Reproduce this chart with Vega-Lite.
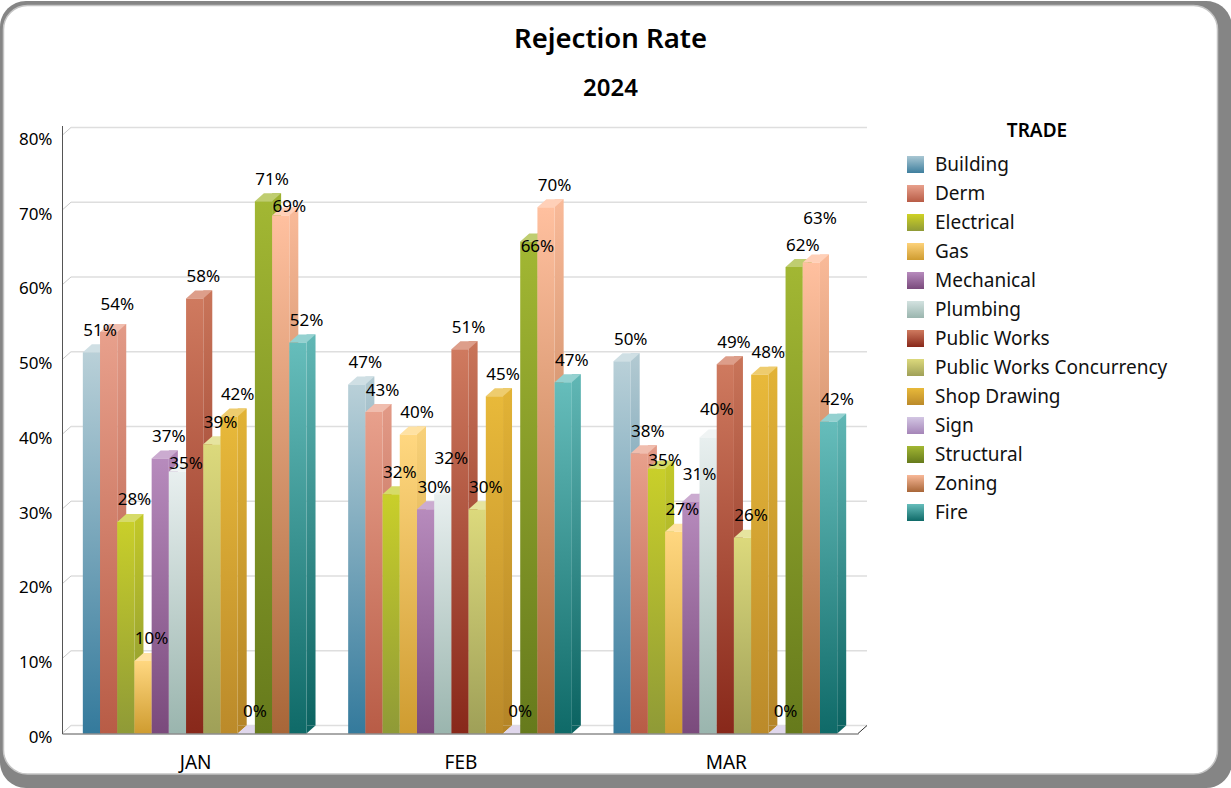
{"$schema":"https://vega.github.io/schema/vega-lite/v6.json","width":1231,"height":788,"padding":0,"autosize":"none","background":"white","view":{"stroke":null,"fill":null},
"config":{"font":"Noto Sans","text":{"font":"Noto Sans"}},
"title":{"text":"Rejection Rate","subtitle":"2024","anchor":"middle","frame":"group","dx":-5,"dy":35,"offset":-66,"fontSize":27.5,"fontWeight":600,"subtitleFontSize":24,"subtitleFontWeight":600,"subtitlePadding":24,"color":"#000","subtitleColor":"#000","font":"Noto Sans","subtitleFont":"Noto Sans"},
"datasets":{"levels":[{"month":"JAN","end":"MAR","level":0},{"month":"JAN","end":"MAR","level":0.1},{"month":"JAN","end":"MAR","level":0.2},{"month":"JAN","end":"MAR","level":0.3},{"month":"JAN","end":"MAR","level":0.4},{"month":"JAN","end":"MAR","level":0.5},{"month":"JAN","end":"MAR","level":0.6},{"month":"JAN","end":"MAR","level":0.7},{"month":"JAN","end":"MAR","level":0.8}]},
"data":{"values":[
{"month":"JAN","trade":"Building","value":0.51},{"month":"JAN","trade":"Derm","value":0.537},{"month":"JAN","trade":"Electrical","value":0.283},{"month":"JAN","trade":"Gas","value":0.097},{"month":"JAN","trade":"Mechanical","value":0.368},{"month":"JAN","trade":"Plumbing","value":0.35},{"month":"JAN","trade":"Public Works","value":0.582},{"month":"JAN","trade":"Public Works Concurrency","value":0.387},{"month":"JAN","trade":"Shop Drawing","value":0.424},{"month":"JAN","trade":"Sign","value":0},{"month":"JAN","trade":"Structural","value":0.712},{"month":"JAN","trade":"Zoning","value":0.693},{"month":"JAN","trade":"Fire","value":0.523},
{"month":"FEB","trade":"Building","value":0.467},{"month":"FEB","trade":"Derm","value":0.43},{"month":"FEB","trade":"Electrical","value":0.32},{"month":"FEB","trade":"Gas","value":0.4},{"month":"FEB","trade":"Mechanical","value":0.3},{"month":"FEB","trade":"Plumbing","value":0.32},{"month":"FEB","trade":"Public Works","value":0.514},{"month":"FEB","trade":"Public Works Concurrency","value":0.3},{"month":"FEB","trade":"Shop Drawing","value":0.451},{"month":"FEB","trade":"Sign","value":0},{"month":"FEB","trade":"Structural","value":0.658},{"month":"FEB","trade":"Zoning","value":0.704},{"month":"FEB","trade":"Fire","value":0.47},
{"month":"MAR","trade":"Building","value":0.498},{"month":"MAR","trade":"Derm","value":0.375},{"month":"MAR","trade":"Electrical","value":0.354},{"month":"MAR","trade":"Gas","value":0.27},{"month":"MAR","trade":"Mechanical","value":0.31},{"month":"MAR","trade":"Plumbing","value":0.396},{"month":"MAR","trade":"Public Works","value":0.494},{"month":"MAR","trade":"Public Works Concurrency","value":0.262},{"month":"MAR","trade":"Shop Drawing","value":0.48},{"month":"MAR","trade":"Sign","value":0},{"month":"MAR","trade":"Structural","value":0.624},{"month":"MAR","trade":"Zoning","value":0.63},{"month":"MAR","trade":"Fire","value":0.417}
]},
"resolve":{"scale":{"fill":"independent","xOffset":"independent"}},
"layer":[
{"data":{"values":[{"part":"shadow"}]},"mark":{"type":"rect","fill":"#858585","cornerRadius":26,"xOffset":1,"yOffset":1},"encoding":{}},
{"data":{"values":[{"month":"JAN","end":"MAR","top":0.8,"bottom":0}]},"mark":{"type":"rect","fill":"white","stroke":"#c4c4c4","strokeWidth":1.5,"cornerRadius":24,"xOffset":-191.17,"x2Offset":492.17,"yOffset":-130,"y2Offset":40.5},
"encoding":{"x":{"field":"month","type":"nominal","sort":["JAN","FEB","MAR"],"scale":{"domain":["JAN","FEB","MAR"],"range":[62,858],"paddingInner":0.157,"paddingOuter":0.0785},"axis":{"title":null,"orient":"bottom","domainColor":"#555","domainWidth":1,"ticks":false,"labelFontSize":19,"labelColor":"#000","labelAngle":0,"labelPadding":20,"labelOffset":1,"offset":-54.5,"grid":false,"zindex":1}},"x2":{"field":"end"},
"y":{"field":"top","type":"quantitative","scale":{"domain":[0,0.81333],"range":[733.5,125.5],"nice":false},"axis":{"title":null,"orient":"left","values":[0,0.1,0.2,0.3,0.4,0.5,0.6,0.7,0.8],"format":".0%","grid":false,"ticks":false,"domain":true,"domainColor":"#555","domainWidth":1,"labelFontSize":17,"labelColor":"#000","labelPadding":10,"labelOffset":4,"offset":-62,"zindex":1}},"y2":{"field":"bottom"}}},
{"data":{"name":"levels"},"mark":{"type":"rule","stroke":"#dedede","strokeWidth":1.5,"xOffset":-123.67,"x2Offset":141.67,"yOffset":-8,"y2Offset":-8},
"encoding":{"x":{"field":"month","type":"nominal"},"x2":{"field":"end"},"y":{"field":"level","type":"quantitative"}}},
{"data":{"name":"levels"},
"mark":{"type":"point","shape":"M0 0 L9 -8","size":4,"stroke":"#c8c8c8","strokeWidth":1,"filled":false,"opacity":1,"xOffset":-132.67},
"encoding":{"x":{"field":"month","type":"nominal"},"y":{"field":"level","type":"quantitative"}}},
{"data":{"values":[{"month":"MAR","level":0}]},"mark":{"type":"point","shape":"M0 0 L9 -8","size":4,"stroke":"#333","strokeWidth":1,"filled":false,"opacity":1,"xOffset":132.67},
"encoding":{"x":{"field":"month","type":"nominal"},"y":{"field":"level","type":"quantitative"}}},
{"mark":{"type":"bar","width":9,"yOffset":-8,"y2Offset":-8},
"encoding":{"x":{"field":"month","type":"nominal"},"xOffset":{"field":"trade","type":"nominal","scale":{"domain":["Building","Derm","Electrical","Gas","Mechanical","Plumbing","Public Works","Public Works Concurrency","Shop Drawing","Sign","Structural","Zoning","Fire"],"range":[13.1,236.8]}},"y":{"field":"value","type":"quantitative"},"y2":{"datum":0},
"fill":{"condition":[
{"test":"datum.trade==='Building'","value":{"gradient":"linear","x1":0,"y1":0,"x2":0,"y2":1,"stops":[{"offset":0,"color":"#b3cad2"},{"offset":1,"color":"#317596"}]}},
{"test":"datum.trade==='Derm'","value":{"gradient":"linear","x1":0,"y1":0,"x2":0,"y2":1,"stops":[{"offset":0,"color":"#e29a87"},{"offset":1,"color":"#b25842"}]}},
{"test":"datum.trade==='Electrical'","value":{"gradient":"linear","x1":0,"y1":0,"x2":0,"y2":1,"stops":[{"offset":0,"color":"#c3c928"},{"offset":1,"color":"#8a9533"}]}},
{"test":"datum.trade==='Gas'","value":{"gradient":"linear","x1":0,"y1":0,"x2":0,"y2":1,"stops":[{"offset":0,"color":"#f8d17a"},{"offset":1,"color":"#c8972d"}]}},
{"test":"datum.trade==='Mechanical'","value":{"gradient":"linear","x1":0,"y1":0,"x2":0,"y2":1,"stops":[{"offset":0,"color":"#b185b7"},{"offset":1,"color":"#754777"}]}},
{"test":"datum.trade==='Plumbing'","value":{"gradient":"linear","x1":0,"y1":0,"x2":0,"y2":1,"stops":[{"offset":0,"color":"#e2eaea"},{"offset":1,"color":"#95b0a9"}]}},
{"test":"datum.trade==='Public Works'","value":{"gradient":"linear","x1":0,"y1":0,"x2":0,"y2":1,"stops":[{"offset":0,"color":"#c9755a"},{"offset":1,"color":"#822517"}]}},
{"test":"datum.trade==='Public Works Concurrency'","value":{"gradient":"linear","x1":0,"y1":0,"x2":0,"y2":1,"stops":[{"offset":0,"color":"#d6d377"},{"offset":1,"color":"#9a9b53"}]}},
{"test":"datum.trade==='Shop Drawing'","value":{"gradient":"linear","x1":0,"y1":0,"x2":0,"y2":1,"stops":[{"offset":0,"color":"#e2b336"},{"offset":1,"color":"#b58527"}]}},
{"test":"datum.trade==='Sign'","value":{"gradient":"linear","x1":0,"y1":0,"x2":0,"y2":1,"stops":[{"offset":0,"color":"#cdc0dd"},{"offset":1,"color":"#9f80b2"}]}},
{"test":"datum.trade==='Structural'","value":{"gradient":"linear","x1":0,"y1":0,"x2":0,"y2":1,"stops":[{"offset":0,"color":"#9db130"},{"offset":1,"color":"#627518"}]}},
{"test":"datum.trade==='Zoning'","value":{"gradient":"linear","x1":0,"y1":0,"x2":0,"y2":1,"stops":[{"offset":0,"color":"#f9ba99"},{"offset":1,"color":"#a26134"}]}}
],"value":{"gradient":"linear","x1":0,"y1":0,"x2":0,"y2":1,"stops":[{"offset":0,"color":"#61b7b5"},{"offset":1,"color":"#0c6462"}]}}}},
{"mark":{"type":"point","shape":"M8.6 0 L17.6 -8 L8.6 -8 Z","size":4,"filled":true,"opacity":1,"strokeWidth":0},
"encoding":{"x":{"field":"month","type":"nominal"},"xOffset":{"field":"trade","type":"nominal","scale":{"domain":["Building","Derm","Electrical","Gas","Mechanical","Plumbing","Public Works","Public Works Concurrency","Shop Drawing","Sign","Structural","Zoning","Fire"]}},"y":{"datum":0,"type":"quantitative"},
"fill":{"field":"trade","type":"nominal","legend":null,"scale":{"domain":["Building","Derm","Electrical","Gas","Mechanical","Plumbing","Public Works","Public Works Concurrency","Shop Drawing","Sign","Structural","Zoning","Fire"],"range":["#317596","#b25842","#8a9533","#c8972d","#754777","#95b0a9","#822517","#9a9b53","#b58527","#9f80b2","#627518","#a26134","#0c6462"]}}}},
{"mark":{"type":"point","shape":"M-8.6 0 L0.4 -8 L17.6 -8 L8.6 0 Z","size":4,"filled":true,"opacity":1,"strokeWidth":0},
"encoding":{"x":{"field":"month","type":"nominal"},"xOffset":{"field":"trade","type":"nominal","scale":{"domain":["Building","Derm","Electrical","Gas","Mechanical","Plumbing","Public Works","Public Works Concurrency","Shop Drawing","Sign","Structural","Zoning","Fire"]}},"y":{"field":"value","type":"quantitative"},
"fill":{"field":"trade","type":"nominal","legend":null,"scale":{"domain":["Building","Derm","Electrical","Gas","Mechanical","Plumbing","Public Works","Public Works Concurrency","Shop Drawing","Sign","Structural","Zoning","Fire"],"range":["#cfdfe4","#f0bdae","#d6db69","#ffe2a3","#cbabd0","#f0f4f4","#dd9e8a","#e6e49f","#eecc6e","#e0d7ec","#bfcd70","#ffd0b8","#94d1d0"]}},
"stroke":{"field":"trade","type":"nominal","scale":{"domain":["Building","Derm","Electrical","Gas","Mechanical","Plumbing","Public Works","Public Works Concurrency","Shop Drawing","Sign","Structural","Zoning","Fire"],"range":["#3f7f9e","#b85c46","#8f9a37","#cf9c30","#7a4a7c","#9ab5ae","#88281a","#9fa058","#bb8a2a","#a585b8","#667a1c","#a86638","#0f6a68"]},
"legend":{"title":"TRADE","orient":"none","legendX":906,"legendY":122,"titleFontSize":19,"titleFontWeight":600,"titleColor":"#000","titleAnchor":"middle","titlePadding":14,"labelFontSize":19,"labelColor":"#111","labelLimit":300,"labelOffset":10,"symbolType":"square","symbolSize":289,"symbolStrokeWidth":0,"rowPadding":9,
"encoding":{"symbols":{"fill":{"value":{"expr":"{gradient:'linear',x1:0,y1:0,x2:0,y2:1,stops:[{offset:0,color:{'Building':'#a9c7d3','Derm':'#e8a08c','Electrical':'#cfd225','Gas':'#fdd27a','Mechanical':'#b78bbd','Plumbing':'#d3e2e0','Public Works':'#cf7a5f','Public Works Concurrency':'#dcd97c','Shop Drawing':'#e8b93a','Sign':'#d3c6e3','Structural':'#a2b733','Zoning':'#f8b898','Fire':'#66bdbb'}[datum.value]},{offset:1,color:{'Building':'#3f7f9e','Derm':'#b85c46','Electrical':'#8f9a37','Gas':'#cf9c30','Mechanical':'#7a4a7c','Plumbing':'#9ab5ae','Public Works':'#88281a','Public Works Concurrency':'#9fa058','Shop Drawing':'#bb8a2a','Sign':'#a585b8','Structural':'#667a1c','Zoning':'#a86638','Fire':'#0f6a68'}[datum.value]}]}"}}}}}}}},
{"mark":{"type":"bar"},
"encoding":{"x":{"field":"month","type":"nominal"},"xOffset":{"field":"trade","type":"nominal","scale":{"domain":["Building","Derm","Electrical","Gas","Mechanical","Plumbing","Public Works","Public Works Concurrency","Shop Drawing","Sign","Structural","Zoning","Fire"]}},"y":{"field":"value","type":"quantitative"},"y2":{"datum":0},
"fill":{"condition":[
{"test":"datum.trade==='Building'","value":{"gradient":"linear","x1":0,"y1":0,"x2":0,"y2":1,"stops":[{"offset":0,"color":"#b9d0d8"},{"offset":1,"color":"#347a9c"}]}},
{"test":"datum.trade==='Derm'","value":{"gradient":"linear","x1":0,"y1":0,"x2":0,"y2":1,"stops":[{"offset":0,"color":"#e8a08c"},{"offset":1,"color":"#b85c46"}]}},
{"test":"datum.trade==='Electrical'","value":{"gradient":"linear","x1":0,"y1":0,"x2":0,"y2":1,"stops":[{"offset":0,"color":"#c9cf2a"},{"offset":1,"color":"#8f9a37"}]}},
{"test":"datum.trade==='Gas'","value":{"gradient":"linear","x1":0,"y1":0,"x2":0,"y2":1,"stops":[{"offset":0,"color":"#ffd780"},{"offset":1,"color":"#cf9c30"}]}},
{"test":"datum.trade==='Mechanical'","value":{"gradient":"linear","x1":0,"y1":0,"x2":0,"y2":1,"stops":[{"offset":0,"color":"#b78bbd"},{"offset":1,"color":"#7a4a7c"}]}},
{"test":"datum.trade==='Plumbing'","value":{"gradient":"linear","x1":0,"y1":0,"x2":0,"y2":1,"stops":[{"offset":0,"color":"#e8efef"},{"offset":1,"color":"#9ab5ae"}]}},
{"test":"datum.trade==='Public Works'","value":{"gradient":"linear","x1":0,"y1":0,"x2":0,"y2":1,"stops":[{"offset":0,"color":"#cf7a5f"},{"offset":1,"color":"#88281a"}]}},
{"test":"datum.trade==='Public Works Concurrency'","value":{"gradient":"linear","x1":0,"y1":0,"x2":0,"y2":1,"stops":[{"offset":0,"color":"#dcd97c"},{"offset":1,"color":"#9fa058"}]}},
{"test":"datum.trade==='Shop Drawing'","value":{"gradient":"linear","x1":0,"y1":0,"x2":0,"y2":1,"stops":[{"offset":0,"color":"#e8b93a"},{"offset":1,"color":"#bb8a2a"}]}},
{"test":"datum.trade==='Sign'","value":{"gradient":"linear","x1":0,"y1":0,"x2":0,"y2":1,"stops":[{"offset":0,"color":"#d3c6e3"},{"offset":1,"color":"#a585b8"}]}},
{"test":"datum.trade==='Structural'","value":{"gradient":"linear","x1":0,"y1":0,"x2":0,"y2":1,"stops":[{"offset":0,"color":"#a2b733"},{"offset":1,"color":"#667a1c"}]}},
{"test":"datum.trade==='Zoning'","value":{"gradient":"linear","x1":0,"y1":0,"x2":0,"y2":1,"stops":[{"offset":0,"color":"#ffc09f"},{"offset":1,"color":"#a86638"}]}}
],"value":{"gradient":"linear","x1":0,"y1":0,"x2":0,"y2":1,"stops":[{"offset":0,"color":"#66bdbb"},{"offset":1,"color":"#0f6a68"}]}}}},
{"transform":[{"filter":"!(datum.month==='JAN'&&(datum.trade==='Plumbing'||datum.trade==='Zoning'||datum.trade==='Derm'))&&!(datum.month==='FEB'&&(datum.trade==='Plumbing'||datum.trade==='Structural'))&&!(datum.month==='MAR'&&(datum.trade==='Electrical'||datum.trade==='Zoning'||datum.trade==='Mechanical'||datum.trade==='Plumbing'))"}],
"mark":{"type":"text","fontSize":17,"color":"#000","dx":8.6,"dy":-21.5,"baseline":"middle","align":"center"},
"encoding":{"x":{"field":"month","type":"nominal"},"xOffset":{"field":"trade","type":"nominal","scale":{"domain":["Building","Derm","Electrical","Gas","Mechanical","Plumbing","Public Works","Public Works Concurrency","Shop Drawing","Sign","Structural","Zoning","Fire"]}},"y":{"field":"value","type":"quantitative"},"text":{"field":"value","type":"quantitative","format":".0%"}}},
{"transform":[{"filter":"(datum.month==='JAN'&&(datum.trade==='Plumbing'||datum.trade==='Zoning'))||(datum.month==='MAR'&&datum.trade==='Electrical')"}],
"mark":{"type":"text","fontSize":17,"color":"#000","dx":8.6,"dy":-8,"baseline":"middle","align":"center"},
"encoding":{"x":{"field":"month","type":"nominal"},"xOffset":{"field":"trade","type":"nominal","scale":{"domain":["Building","Derm","Electrical","Gas","Mechanical","Plumbing","Public Works","Public Works Concurrency","Shop Drawing","Sign","Structural","Zoning","Fire"]}},"y":{"field":"value","type":"quantitative"},"text":{"field":"value","type":"quantitative","format":".0%"}}},
{"transform":[{"filter":"(datum.month==='JAN'&&datum.trade==='Derm')||(datum.month==='MAR'&&(datum.trade==='Mechanical'||datum.trade==='Plumbing'))"}],
"mark":{"type":"text","fontSize":17,"color":"#000","dx":8.6,"dy":-27,"baseline":"middle","align":"center"},
"encoding":{"x":{"field":"month","type":"nominal"},"xOffset":{"field":"trade","type":"nominal","scale":{"domain":["Building","Derm","Electrical","Gas","Mechanical","Plumbing","Public Works","Public Works Concurrency","Shop Drawing","Sign","Structural","Zoning","Fire"]}},"y":{"field":"value","type":"quantitative"},"text":{"field":"value","type":"quantitative","format":".0%"}}},
{"transform":[{"filter":"datum.month==='FEB'&&datum.trade==='Plumbing'"}],
"mark":{"type":"text","fontSize":17,"color":"#000","dx":8.6,"dy":-35,"baseline":"middle","align":"center"},
"encoding":{"x":{"field":"month","type":"nominal"},"xOffset":{"field":"trade","type":"nominal","scale":{"domain":["Building","Derm","Electrical","Gas","Mechanical","Plumbing","Public Works","Public Works Concurrency","Shop Drawing","Sign","Structural","Zoning","Fire"]}},"y":{"field":"value","type":"quantitative"},"text":{"field":"value","type":"quantitative","format":".0%"}}},
{"transform":[{"filter":"datum.month==='FEB'&&datum.trade==='Structural'"}],
"mark":{"type":"text","fontSize":17,"color":"#000","dx":8.6,"dy":5,"baseline":"middle","align":"center"},
"encoding":{"x":{"field":"month","type":"nominal"},"xOffset":{"field":"trade","type":"nominal","scale":{"domain":["Building","Derm","Electrical","Gas","Mechanical","Plumbing","Public Works","Public Works Concurrency","Shop Drawing","Sign","Structural","Zoning","Fire"]}},"y":{"field":"value","type":"quantitative"},"text":{"field":"value","type":"quantitative","format":".0%"}}},
{"transform":[{"filter":"datum.month==='MAR'&&datum.trade==='Zoning'"}],
"mark":{"type":"text","fontSize":17,"color":"#000","dx":8.6,"dy":-44,"baseline":"middle","align":"center"},
"encoding":{"x":{"field":"month","type":"nominal"},"xOffset":{"field":"trade","type":"nominal","scale":{"domain":["Building","Derm","Electrical","Gas","Mechanical","Plumbing","Public Works","Public Works Concurrency","Shop Drawing","Sign","Structural","Zoning","Fire"]}},"y":{"field":"value","type":"quantitative"},"text":{"field":"value","type":"quantitative","format":".0%"}}}
]}
